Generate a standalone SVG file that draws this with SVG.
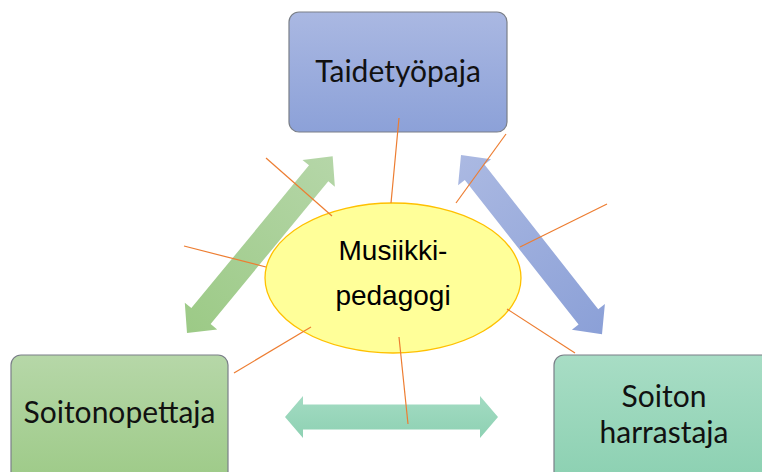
<svg xmlns="http://www.w3.org/2000/svg" width="762" height="472" viewBox="0 0 762 472">
<defs>
<linearGradient id="gBlue" x1="0" y1="0" x2="0" y2="1"><stop offset="0" stop-color="#aab8e2"/><stop offset="1" stop-color="#8ca1d8"/></linearGradient>
<linearGradient id="gGreen" x1="0" y1="0" x2="0" y2="1"><stop offset="0" stop-color="#b6d7a8"/><stop offset="1" stop-color="#9dca87"/></linearGradient>
<linearGradient id="gTeal" x1="0" y1="0" x2="0" y2="1"><stop offset="0" stop-color="#a8ddc5"/><stop offset="1" stop-color="#8bd0b1"/></linearGradient>
<linearGradient id="aGreen" x1="0" y1="0" x2="1" y2="0"><stop offset="0" stop-color="#9cca86"/><stop offset="1" stop-color="#b5d6a8"/></linearGradient>
<linearGradient id="aBlue" x1="0" y1="0" x2="1" y2="0"><stop offset="0" stop-color="#abb9e2"/><stop offset="1" stop-color="#8ba0d7"/></linearGradient>
<linearGradient id="aTeal" x1="0" y1="0" x2="0" y2="1"><stop offset="0" stop-color="#a3dbc2"/><stop offset="1" stop-color="#8ed1b3"/></linearGradient>
</defs>
<style>
.box{stroke:#7a7f88;stroke-width:1.2}
.bt{font-family:Lato,"Open Sans",sans-serif;font-size:30px;fill:#111;text-anchor:middle}
.et{font-family:"Liberation Sans",Arial,sans-serif;font-size:28px;fill:#000;text-anchor:middle}
.ln{stroke:#ed7d31;stroke-width:1.2;fill:none}
</style>
<g id="connectors">
<polygon fill="url(#aGreen)" transform="translate(187,333) rotate(-50.5)" points="0,0 22,-21 22,-12.5 207,-12.5 207,-21 229,0 207,21 207,12.5 22,12.5 22,21"/>
<polygon fill="url(#aBlue)" transform="translate(461,155) rotate(51.8)" points="0,0 22,-21 22,-12.5 206,-12.5 206,-21 228,0 206,21 206,12.5 22,12.5 22,21"/>
<polygon fill="url(#aTeal)" transform="translate(285,417)" points="0,0 18,-21 18,-12.5 195,-12.5 195,-21 213,0 195,21 195,12.5 18,12.5 18,21"/>
</g>
<g id="taidetyopaja">
<rect class="box" x="289" y="12" width="218" height="120" rx="10" fill="url(#gBlue)"/>
<text class="bt" x="398" y="82">Taidetyöpaja</text>
</g>
<g id="soitonopettaja">
<rect class="box" x="11" y="355" width="217" height="130" rx="10" fill="url(#gGreen)"/>
<text class="bt" x="119.5" y="423">Soitonopettaja</text>
</g>
<g id="soiton-harrastaja">
<rect class="box" x="554" y="355" width="220" height="130" rx="10" fill="url(#gTeal)"/>
<text class="bt" x="664" y="407">Soiton</text>
<text class="bt" x="664" y="443">harrastaja</text>
</g>
<g id="musiikkipedagogi">
<ellipse cx="393" cy="278" rx="128" ry="75" fill="#ffff99" stroke="#ffc000" stroke-width="1.3"/>
<text class="et" x="393" y="260">Musiikki-</text>
<text class="et" x="393" y="305">pedagogi</text>
</g>
<g id="lines">
<line class="ln" x1="399" y1="118" x2="391" y2="203"/>
<line class="ln" x1="266" y1="158" x2="332" y2="216"/>
<line class="ln" x1="184" y1="246" x2="266" y2="267"/>
<line class="ln" x1="234" y1="373" x2="311" y2="327"/>
<line class="ln" x1="399" y1="337" x2="408" y2="424"/>
<line class="ln" x1="506" y1="134" x2="456" y2="203"/>
<line class="ln" x1="607" y1="204" x2="520" y2="247"/>
<line class="ln" x1="507" y1="309" x2="575" y2="353"/>
</g>
</svg>
